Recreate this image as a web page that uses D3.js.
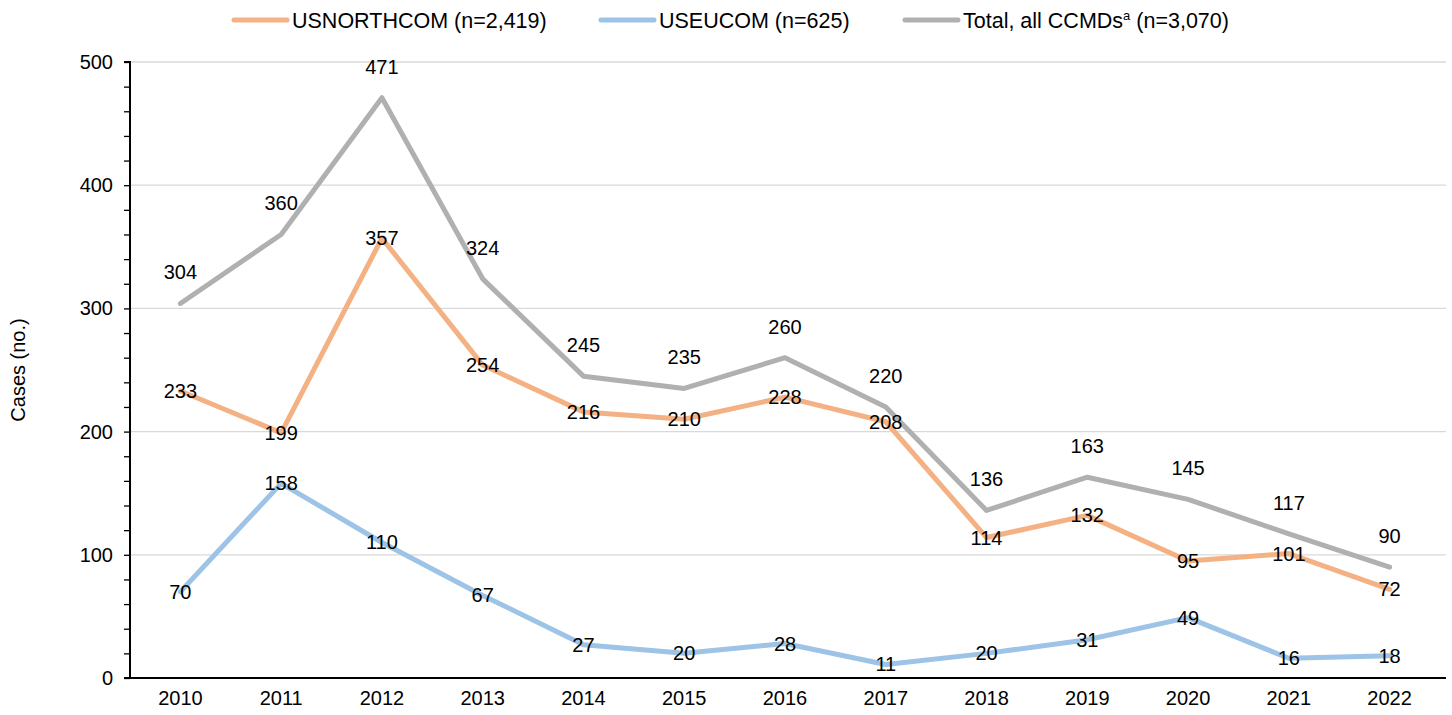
<!DOCTYPE html>
<meta charset="utf-8">
<style>
body { margin: 0; background: #fff; }
svg text { font-family: Arial, "Liberation Sans", sans-serif; fill: #000; }
.line { fill: none; stroke-width: 5px; stroke-linejoin: round; stroke-linecap: round; }
.grid line { stroke: #d9d9d9; stroke-width: 1.3px; }
</style>
<body>
<script src="https://d3js.org/d3.v7.min.js"></script>
<script>

// data
var years = [2010, 2011, 2012, 2013, 2014, 2015, 2016, 2017, 2018, 2019, 2020, 2021, 2022];
var northcom = [233, 199, 357, 254, 216, 210, 228, 208, 114, 132, 95, 101, 72];
var eucom = [70, 158, 110, 67, 27, 20, 28, 11, 20, 31, 49, 16, 18];
var total = [304, 360, 471, 324, 245, 235, 260, 220, 136, 163, 145, 117, 90];
var yTicks = [0, 100, 200, 300, 400, 500];

var series = [
    {name: "USNORTHCOM (n=2,419)", values: northcom, color: "#f4b183", labelDy: 0},
    {name: "USEUCOM (n=625)", values: eucom, color: "#9dc3e6", labelDy: 0},
    {name: "Total, all CCMDs", sup: "a", rest: " (n=3,070)", values: total, color: "#b0b0b0", labelDy: -31}
];

var margin = {top: 62, right: 10, bottom: 37, left: 130},
    width = 1452 - margin.left - margin.right,
    height = 715 - margin.top - margin.bottom;

var svg = d3.select("body").append("svg")
    .attr("width", 1452)
    .attr("height", 715);

var g = svg.append("g")
    .attr("transform", "translate(" + margin.left + "," + margin.top + ")");

var x = d3.scaleBand().domain(years).range([0, width - 2]);
var y = d3.scaleLinear().domain([0, 500]).range([height, 0]);

// gridlines
g.append("g").attr("class", "grid")
    .selectAll("line").data(yTicks.slice(1)).enter().append("line")
    .attr("x1", 0).attr("x2", width + 4)
    .attr("y1", function(d) { return y(d); })
    .attr("y2", function(d) { return y(d); });

// y axis: minor ticks every 20
var yAxis = g.append("g")
    .call(d3.axisLeft(y).tickValues(d3.range(0, 501, 20)).tickSize(6)
        .tickFormat(function(d) { return d % 100 === 0 ? d : ""; }));
yAxis.select(".domain").attr("stroke-width", 2).attr("d", "M-6,0H0V" + height + "H-6");
yAxis.selectAll(".tick line").attr("stroke-width", 1.3);
yAxis.selectAll("text").attr("font-size", 20).attr("x", -17)
    .style("font-family", "Arial, 'Liberation Sans', sans-serif");

// x axis
var xAxis = g.append("g")
    .attr("transform", "translate(0," + height + ")")
    .call(d3.axisBottom(x).tickSize(0).tickPadding(13));
xAxis.select(".domain").attr("stroke-width", 2).attr("d", "M0,0H" + (width + 4));
xAxis.selectAll("text").attr("font-size", 20)
    .style("font-family", "Arial, 'Liberation Sans', sans-serif");

// axis title
svg.append("text")
    .attr("transform", "translate(25," + (margin.top + height / 2) + ") rotate(-90)")
    .attr("text-anchor", "middle")
    .attr("font-size", 20)
    .text("Cases (no.)");

var line = d3.line()
    .x(function(d, i) { return x(years[i]) + x.bandwidth() / 2; })
    .y(function(d) { return y(d); });

// lines
var drawOrder = [series[2], series[1], series[0]];
drawOrder.forEach(function(s) {
    g.append("path")
        .datum(s.values)
        .attr("class", "line")
        .attr("stroke", s.color)
        .attr("d", line);
});

// data labels
series.forEach(function(s) {
    g.selectAll(null).data(s.values).enter().append("text")
        .attr("x", function(d, i) { return x(years[i]) + x.bandwidth() / 2; })
        .attr("y", function(d) { return y(d) + s.labelDy; })
        .attr("dy", "0.35em")
        .attr("text-anchor", "middle")
        .attr("font-size", 20)
        .text(function(d) { return d; });
});

// legend
var legendX = [232, 599, 903];
series.forEach(function(s, i) {
    var lg = svg.append("g").attr("transform", "translate(" + legendX[i] + ",20)");
    lg.append("line").attr("x1", 2).attr("x2", 55)
        .attr("stroke", s.color).attr("stroke-width", 5).attr("stroke-linecap", "round");
    var t = lg.append("text").attr("x", 60).attr("dy", "0.35em").attr("font-size", 21.5);
    t.append("tspan").text(s.name);
    if (s.sup) {
        t.append("tspan").attr("font-size", 13).attr("dy", "-0.55em").text(s.sup);
        t.append("tspan").attr("dy", "0.35em").text(s.rest);
    }
});

</script>
</body>
